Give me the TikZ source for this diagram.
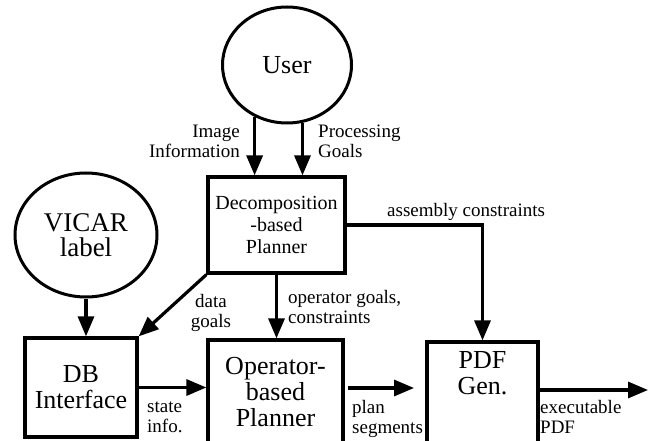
\documentclass[tikz,border=0pt]{standalone}
\usepackage{fontspec}
\setmainfont{Liberation Serif}
\usetikzlibrary{shapes,arrows.meta}
\tikzstyle{oval}=[ellipse,draw=black,line width=3pt,inner sep=0pt]
\tikzstyle{blk}=[rectangle,draw=black,line width=3.2pt,inner sep=0pt,align=center]
\tikzstyle{arrow}=[line width=3.2pt,-{Triangle[length=20pt,width=16pt]}]
\tikzstyle{lbl}=[inner sep=0pt,align=left,font=\fontsize{19}{20}\selectfont]
\tikzstyle{big}=[font=\fontsize{26}{26}\selectfont]

\begin{document}
\begin{tikzpicture}[x=1pt,y=-1pt]
    \useasboundingbox (0,0) rectangle (648,441);
    \node [style=oval,big,minimum width=129,minimum height=116] (user) at (287,65) {User};
    \node [style=oval,minimum width=142,minimum height=124,align=center,
      font=\fontsize{27}{25}\selectfont] (vicar) at (86,235) {VICAR\\label};
    \node [style=blk,minimum width=137,minimum height=96,
      font=\fontsize{20}{22}\selectfont] (dec) at (276.5,225) {Decomposition\\-based\\Planner};
    \node [style=blk,big,minimum width=112,minimum height=99] (db) at (81,387.5) {DB\\Interface};
    \node [style=blk,big,minimum width=135,minimum height=104] (op) at (275.5,392) {Operator-\\based\\Planner};
    \node [style=blk,big,minimum width=111,minimum height=102] (pdf) at (482.5,393) {PDF\\Gen.\\[14pt]};
    \coordinate (plan-start) at (348,388);
    \coordinate (plan-end) at (414,388);
    \coordinate (exe-end) at (648,390);
    % arrows
    \draw [style=arrow] (user.238.7) to (user.238.7 |- dec.north);
    \draw [style=arrow] (user.285) to (user.285 |- dec.north);
    \draw [style=arrow] (vicar.south) to (vicar.south |- db.north);
    \draw [style=arrow] (dec.south west) to (db.north east);
    \draw [style=arrow] (dec.south) to (dec.south |- op.north);
    \draw [style=arrow] (dec.east) -| (pdf.north);
    \draw [style=arrow] (db.east) to (db.east -| op.west);
    \draw [style=arrow] (plan-start) to (plan-end);
    \draw [style=arrow] (pdf.east |- exe-end) to (exe-end);
    % labels
    \node [style=lbl,align=right,anchor=east] (l-img) at (240,141) {Image\\Information};
    \node [style=lbl,anchor=west] (l-proc) at (318,141) {Processing\\Goals};
    \node [style=lbl,anchor=west] (l-asm) at (387,212) {assembly constraints};
    \node [style=lbl,align=center] (l-data) at (211,313) {data\\goals};
    \node [style=lbl,anchor=west] (l-opg) at (288,307) {operator goals,\\constraints};
    \node [style=lbl,anchor=west] (l-state) at (147,417) {state\\info.};
    \node [style=lbl,anchor=west] (l-plan) at (352,419) {plan\\segments};
    \node [style=lbl,anchor=west] (l-exe) at (540,417) {executable\\PDF};
\end{tikzpicture}
\end{document}
